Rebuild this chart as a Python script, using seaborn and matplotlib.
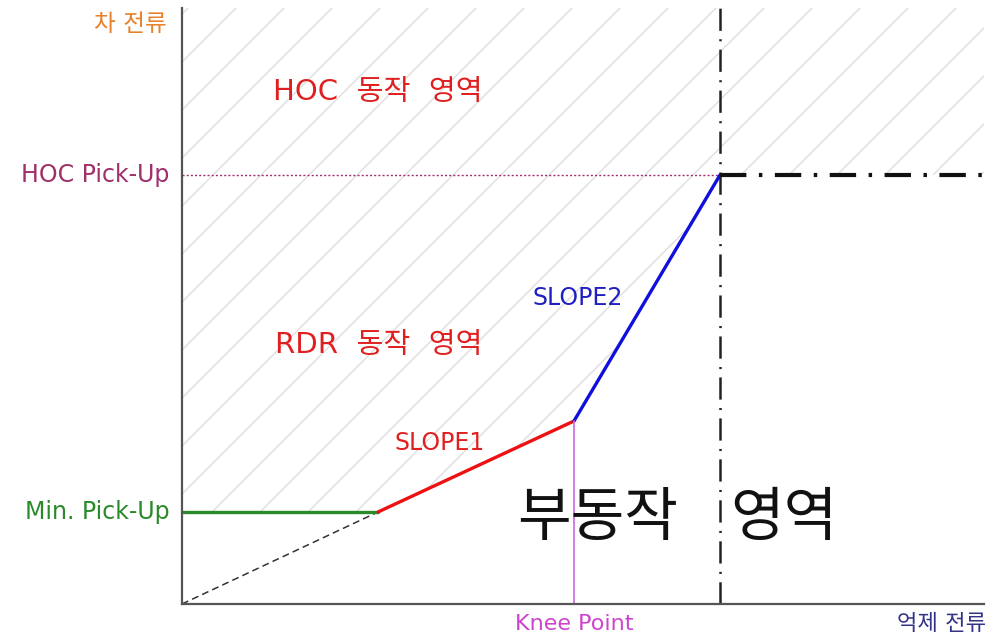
#!/usr/bin/env python3
"""
비율차동계전기(RDR) 동작 특성 곡선
Output: out.png
"""

import numpy as np
import pandas as pd
import matplotlib
matplotlib.use('Agg')
import matplotlib.pyplot as plt
from matplotlib.patches import Polygon
import seaborn as sns

# 특성 곡선 꺾이는 점 (억제 전류 / 차 전류, 임의 단위)
min_pickup = 0.92
slope1_start = 1.96
knee_x = 3.92
knee_y = 1.83
hoc_x = 5.38
hoc_pickup = 4.29
x_max = 8.02
y_max = 5.96

# 구간별 선
green_x = [0.0, slope1_start]
green_y = [min_pickup, min_pickup]
slope1_x = [slope1_start, knee_x]
slope1_y = [min_pickup, knee_y]
slope2_x = [knee_x, hoc_x]
slope2_y = [knee_y, hoc_pickup]
origin_x = [0.0, slope1_start]
origin_y = [0.0, min_pickup]

hatch_step = 0.48

sns.set_style('white')
plt.rcParams['font.family'] = ['DejaVu Sans', 'Noto Sans CJK KR']
plt.rcParams['lines.scale_dashes'] = False

fig = plt.figure(figsize=(9.87, 6.37), dpi=100)
ax = fig.add_axes([182 / 987, 33 / 637, 802 / 987, 596 / 637])
ax.set_xlim(0, x_max)
ax.set_ylim(0, y_max)

# 동작 영역 빗금
region = Polygon([(0, min_pickup), (slope1_start, min_pickup), (knee_x, knee_y),
                  (hoc_x, hoc_pickup), (x_max, hoc_pickup), (x_max, y_max + 0.05),
                  (0, y_max + 0.05)],
                 closed=True, facecolor='none', edgecolor='none')
ax.add_patch(region)
hx = np.array([0.0, x_max])
for c in np.arange(-x_max, y_max + 0.2, hatch_step):
    ln, = ax.plot(hx, hx + c, color='#d8d8d8', linewidth=0.8, zorder=1)
    ln.set_clip_path(region)

def seg(x, y, **kw):
    d = pd.DataFrame({'x': x, 'y': y})
    n = len(ax.get_lines())
    sns.lineplot(data=d, x='x', y='y', ax=ax, estimator=None, sort=False, **kw)
    for l in ax.get_lines()[n:]:
        l.set_clip_on(False)

seg(origin_x, origin_y, color='#333333', linewidth=1.1, linestyle=(0, (5, 3)))
seg(green_x, green_y, color='#2a8a2a', linewidth=2.4)
seg(slope1_x, slope1_y, color='#ee1111', linewidth=2.4)
seg(slope2_x, slope2_y, color='#1010dd', linewidth=2.4)
seg([0, hoc_x], [hoc_pickup, hoc_pickup], color='#a0306a', linewidth=1.0,
    linestyle=(0, (1.5, 1.5)))
seg([knee_x, knee_x], [0, knee_y], color='#cc66dd', linewidth=1.2)
seg([hoc_x, hoc_x], [0, y_max + 0.03], color='#222222', linewidth=1.8,
    linestyle=(0, (16, 6, 1.5, 6)))
seg([hoc_x, x_max], [hoc_pickup, hoc_pickup], color='#111111', linewidth=3.0,
    linestyle=(0, (19, 9, 2.5, 9)))

# 축
sns.despine(ax=ax)
for s in ['left', 'bottom']:
    ax.spines[s].set_color('#555555')
    ax.spines[s].set_linewidth(1.6)
ax.set_xticks([])
ax.set_yticks([])
ax.set_xlabel('')
ax.set_ylabel('')

# 축 라벨
ax.text(-0.15, 5.80, '차 전류', ha='right', va='center', fontsize=17, color='#e8822a', clip_on=False)
ax.text(-0.13, hoc_pickup, 'HOC Pick-Up', ha='right', va='center', fontsize=17, color='#a0306a', clip_on=False)
ax.text(-0.12, min_pickup, 'Min. Pick-Up', ha='right', va='center', fontsize=17, color='#2a8a2a', clip_on=False)
ax.text(knee_x, -0.2, 'Knee Point', ha='center', va='center', fontsize=16, color='#cc44cc', clip_on=False)
ax.text(x_max + 0.02, -0.2, '억제 전류', ha='right', va='center', fontsize=16, color='#333388', clip_on=False)

# 영역 라벨
ax.text(0.91, 5.12, 'HOC  동작  영역', ha='left', va='center', fontsize=21, color='#e02020')
ax.text(0.93, 2.59, 'RDR  동작  영역', ha='left', va='center', fontsize=21, color='#e02020')
ax.text(2.13, 1.61, 'SLOPE1', ha='left', va='center', fontsize=17, color='#e02020')
ax.text(3.51, 3.06, 'SLOPE2', ha='left', va='center', fontsize=17, color='#2020c0')
cjk = ['Noto Sans CJK KR', 'DejaVu Sans']
ax.text(3.35, 0.86, '부동작', ha='left', va='center', fontsize=42, color='#111111', family=cjk)
ax.text(5.48, 0.86, '영역', ha='left', va='center', fontsize=42, color='#111111', family=cjk)

fig.savefig('out.png', dpi=100)
